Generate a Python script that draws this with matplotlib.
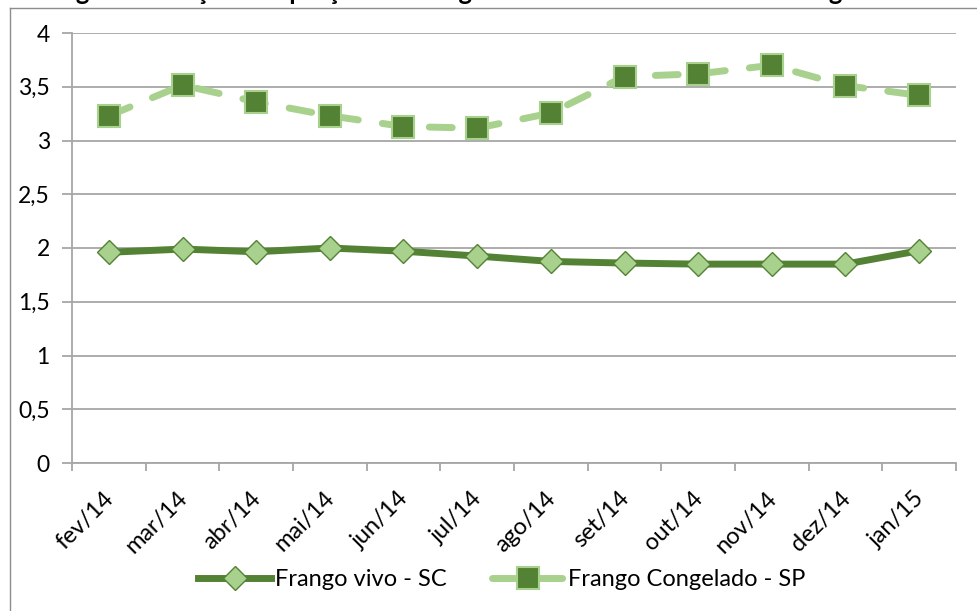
import matplotlib
matplotlib.use("Agg")
import matplotlib.pyplot as plt
from matplotlib.lines import Line2D
from matplotlib.ticker import FixedLocator, FuncFormatter
import matplotlib.transforms as mtransforms

plt.rcParams['font.family'] = ['Lato', 'DejaVu Sans']

months = ["fev/14", "mar/14", "abr/14", "mai/14", "jun/14", "jul/14",
          "ago/14", "set/14", "out/14", "nov/14", "dez/14", "jan/15"]
frango_vivo_sc = [1.96, 1.99, 1.965, 2.00, 1.97, 1.925, 1.875, 1.86, 1.85, 1.85, 1.85, 1.975]
frango_congelado_sp = [3.23, 3.515, 3.36, 3.23, 3.13, 3.115, 3.255, 3.595, 3.62, 3.70, 3.51, 3.42]
y_ticks = [0, 0.5, 1, 1.5, 2, 2.5, 3, 3.5, 4]
title = "Frango – Evolução dos preços de Frango Vivo em Santa Catarina e congelado em SP"
label_vivo = "Frango vivo - SC"
label_cong = "Frango Congelado - SP"

W, H = 978, 611
dark = "#548235"
light = "#A9D18E"
grid_c = "#A6A6A6"

fig = plt.figure(figsize=(W / 100, H / 100), dpi=100)
ax = fig.add_axes([72 / W, 1 - 463 / H, (956 - 72) / W, (463 - 33) / H])

x = list(range(len(months)))

ax.plot(x, frango_vivo_sc, color=dark, lw=5, solid_joinstyle='round',
        marker='D', markersize=12, markerfacecolor=light, markeredgecolor=dark,
        markeredgewidth=1.0, zorder=3)
ax.plot(x, frango_congelado_sp, color=light, lw=5, dashes=(3.3, 3.5),
        dash_capstyle='round', marker='s', markersize=15.5,
        markerfacecolor=dark, markeredgecolor=light, markeredgewidth=1.5, zorder=3)

ax.set_xlim(-0.5, len(months) - 0.5)
ax.set_ylim(0, 4)
ax.yaxis.set_major_locator(FixedLocator(y_ticks))
ax.yaxis.set_major_formatter(FuncFormatter(lambda v, p: (f"{v:g}").replace('.', ',')))
ax.grid(axis='y', color=grid_c, lw=1.3, zorder=0)
ax.set_axisbelow(True)

ax.set_xticks([i - 0.5 for i in range(len(months) + 1)])
ax.set_xticklabels([])
ax.set_xticks(x, minor=True)
ax.set_xticklabels(months, minor=True, rotation=45, ha='right', va='top',
                   rotation_mode='anchor', fontsize=17)
ax.tick_params(axis='x', which='minor', length=0, pad=12)
ax.tick_params(axis='x', which='major', length=6, color=grid_c, width=1.3)
offset = mtransforms.ScaledTranslation(-6 / 100, -8 / 100, fig.dpi_scale_trans)
for lab in ax.xaxis.get_minorticklabels():
    lab.set_transform(lab.get_transform() + offset)

ax.tick_params(axis='y', length=7, color=grid_c, width=1.3, pad=9, labelsize=16.5)

for s in ['top', 'right']:
    ax.spines[s].set_visible(False)
for s in ['left', 'bottom']:
    ax.spines[s].set_color(grid_c)
    ax.spines[s].set_linewidth(1.3)

# legend
h1 = Line2D([], [], color=dark, lw=5, marker='D', markersize=12,
            markerfacecolor=light, markeredgecolor=dark, markeredgewidth=1.0)
h2 = Line2D([], [], color=light, lw=5, dashes=(3.3, 3.5), dash_capstyle='round',
            marker='s', markersize=15.5, markerfacecolor=dark,
            markeredgecolor=light, markeredgewidth=1.5)
fig.legend([h1, h2], [label_vivo, label_cong], loc='center',
           bbox_to_anchor=(502 / W, 1 - 580 / H), ncol=2, frameon=False,
           fontsize=17, handlelength=3.1, handletextpad=0.15, columnspacing=1.9)

# chart frame (partially cropped)
fig.add_artist(Line2D([10 / W, 10 / W], [0, 1 - 8 / H], color='#8C8C8C', lw=1,
                      transform=fig.transFigure))
fig.add_artist(Line2D([10 / W, 1], [1 - 8 / H, 1 - 8 / H], color='#8C8C8C', lw=1,
                      transform=fig.transFigure))

# title, cropped at the top of the picture
fig.text(0.515, 1 - 0.5 / H, title, ha='center', va='baseline', fontsize=18.5,
         fontweight='bold')

fig.savefig("out.png", dpi=100)
